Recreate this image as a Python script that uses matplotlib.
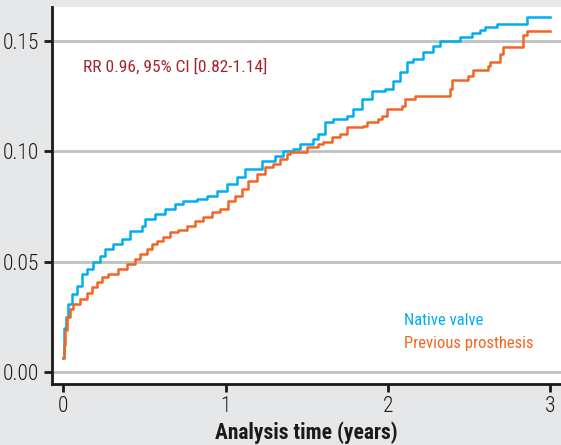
import matplotlib
matplotlib.use("Agg")
import matplotlib.pyplot as plt

# cumulative incidence, step points (years, value)
native_t = [0.0, 0.003, 0.018, 0.029, 0.055, 0.086, 0.117, 0.148, 0.185, 0.228,
            0.258, 0.308, 0.363, 0.412, 0.486, 0.505, 0.566, 0.628, 0.689, 0.738,
            0.825, 0.886, 0.948, 1.009, 1.071, 1.12, 1.225, 1.305, 1.354, 1.415,
            1.458, 1.538, 1.569, 1.612, 1.662, 1.748, 1.785, 1.84, 1.902, 1.982,
            2.031, 2.074, 2.117, 2.154, 2.215, 2.277, 2.32, 2.443, 2.517, 2.566,
            2.597, 2.671, 2.855, 2.997]
native_y = [0.0065, 0.0197, 0.0247, 0.0306, 0.0351, 0.0388, 0.0442, 0.0465, 0.0497, 0.0524,
            0.0556, 0.0579, 0.0601, 0.0638, 0.0661, 0.0692, 0.0715, 0.0738, 0.0761, 0.0774,
            0.0783, 0.0797, 0.082, 0.0851, 0.0883, 0.092, 0.0956, 0.0979, 0.1001, 0.1011,
            0.1033, 0.1056, 0.1079, 0.1133, 0.1147, 0.116, 0.1192, 0.1238, 0.1274, 0.1283,
            0.132, 0.1361, 0.1406, 0.142, 0.1451, 0.1479, 0.1501, 0.152, 0.1538, 0.1551,
            0.1565, 0.1579, 0.161, 0.161]

prev_t = [0.0, 0.006, 0.012, 0.025, 0.043, 0.062, 0.105, 0.148, 0.178, 0.209,
          0.24, 0.277, 0.338, 0.394, 0.443, 0.474, 0.517, 0.548, 0.578, 0.615,
          0.658, 0.708, 0.763, 0.812, 0.862, 0.917, 0.966, 1.015, 1.058, 1.102,
          1.138, 1.194, 1.243, 1.292, 1.335, 1.378, 1.397, 1.502, 1.569, 1.6,
          1.655, 1.705, 1.748, 1.846, 1.871, 1.938, 1.963, 1.994, 2.086, 2.105,
          2.166, 2.382, 2.394, 2.492, 2.523, 2.615, 2.628, 2.689, 2.708, 2.831,
          2.855, 2.997]
prev_y = [0.0065, 0.0124, 0.0192, 0.0247, 0.0283, 0.0306, 0.0329, 0.036, 0.0383, 0.0406,
          0.0429, 0.0442, 0.0465, 0.0488, 0.0511, 0.0533, 0.0556, 0.0579, 0.0592, 0.061,
          0.0633, 0.0642, 0.066, 0.0683, 0.0701, 0.0724, 0.0738, 0.0774, 0.0797, 0.0828,
          0.0865, 0.0897, 0.0929, 0.0942, 0.0965, 0.0988, 0.0997, 0.102, 0.1033, 0.1042,
          0.1065, 0.1079, 0.111, 0.1115, 0.1133, 0.1147, 0.116, 0.1192, 0.1206, 0.1238,
          0.1251, 0.1283, 0.1324, 0.1342, 0.1369, 0.1388, 0.1406, 0.1442, 0.1474, 0.1529,
          0.1547, 0.1547]

yticks = [0.0, 0.05, 0.10, 0.15]
ytick_labels = ["0.00", "0.05", "0.10", "0.15"]
xticks = [0, 1, 2, 3]

blue = "#00aeef"
orange = "#f26522"
plt.rcParams["font.family"] = ["Roboto Condensed", "DejaVu Sans"]

fig = plt.figure(figsize=(5.61, 4.45), dpi=100, facecolor="#e6e7e8")
ax = fig.add_axes([52 / 561, 61 / 445, 509 / 561, 377 / 445])
ax.set_facecolor("white")

for y in yticks:
    ax.axhline(y, color="#c0c0c0", lw=2, zorder=1)

ax.plot(native_t, native_y, drawstyle="steps-post", color=blue, lw=1.8, zorder=3)
ax.plot(prev_t, prev_y, drawstyle="steps-post", color=orange, lw=1.8, zorder=3)

ax.set_xlim(-0.068, 3.065)
ax.set_ylim(-0.0055, 0.1655)
ax.set_yticks(yticks)
ax.set_yticklabels(ytick_labels)
ax.set_xticks(xticks)

for s in ["top", "right"]:
    ax.spines[s].set_visible(False)
for s in ["left", "bottom"]:
    ax.spines[s].set_linewidth(2)
    ax.spines[s].set_color("#1a1a1a")
ax.tick_params(axis="both", direction="out", width=2, length=6, labelsize=15.5,
               colors="#1a1a1a", pad=3)
for lab in ax.get_xticklabels() + ax.get_yticklabels():
    lab.set_fontweight("light")

ax.set_xlabel("Analysis time (years)", fontsize=15.5, fontweight="bold",
              color="#1a1a1a", labelpad=3)

ax.text(0.12, 0.1385, "RR 0.96, 95% CI [0.82-1.14]", color="#a3262e",
        fontsize=12.5, va="center", ha="left")
ax.text(2.1, 0.0235, "Native valve", color=blue, fontsize=12, va="center")
ax.text(2.1, 0.0130, "Previous prosthesis", color=orange, fontsize=12, va="center")

fig.savefig("out.png", dpi=100, facecolor=fig.get_facecolor())
